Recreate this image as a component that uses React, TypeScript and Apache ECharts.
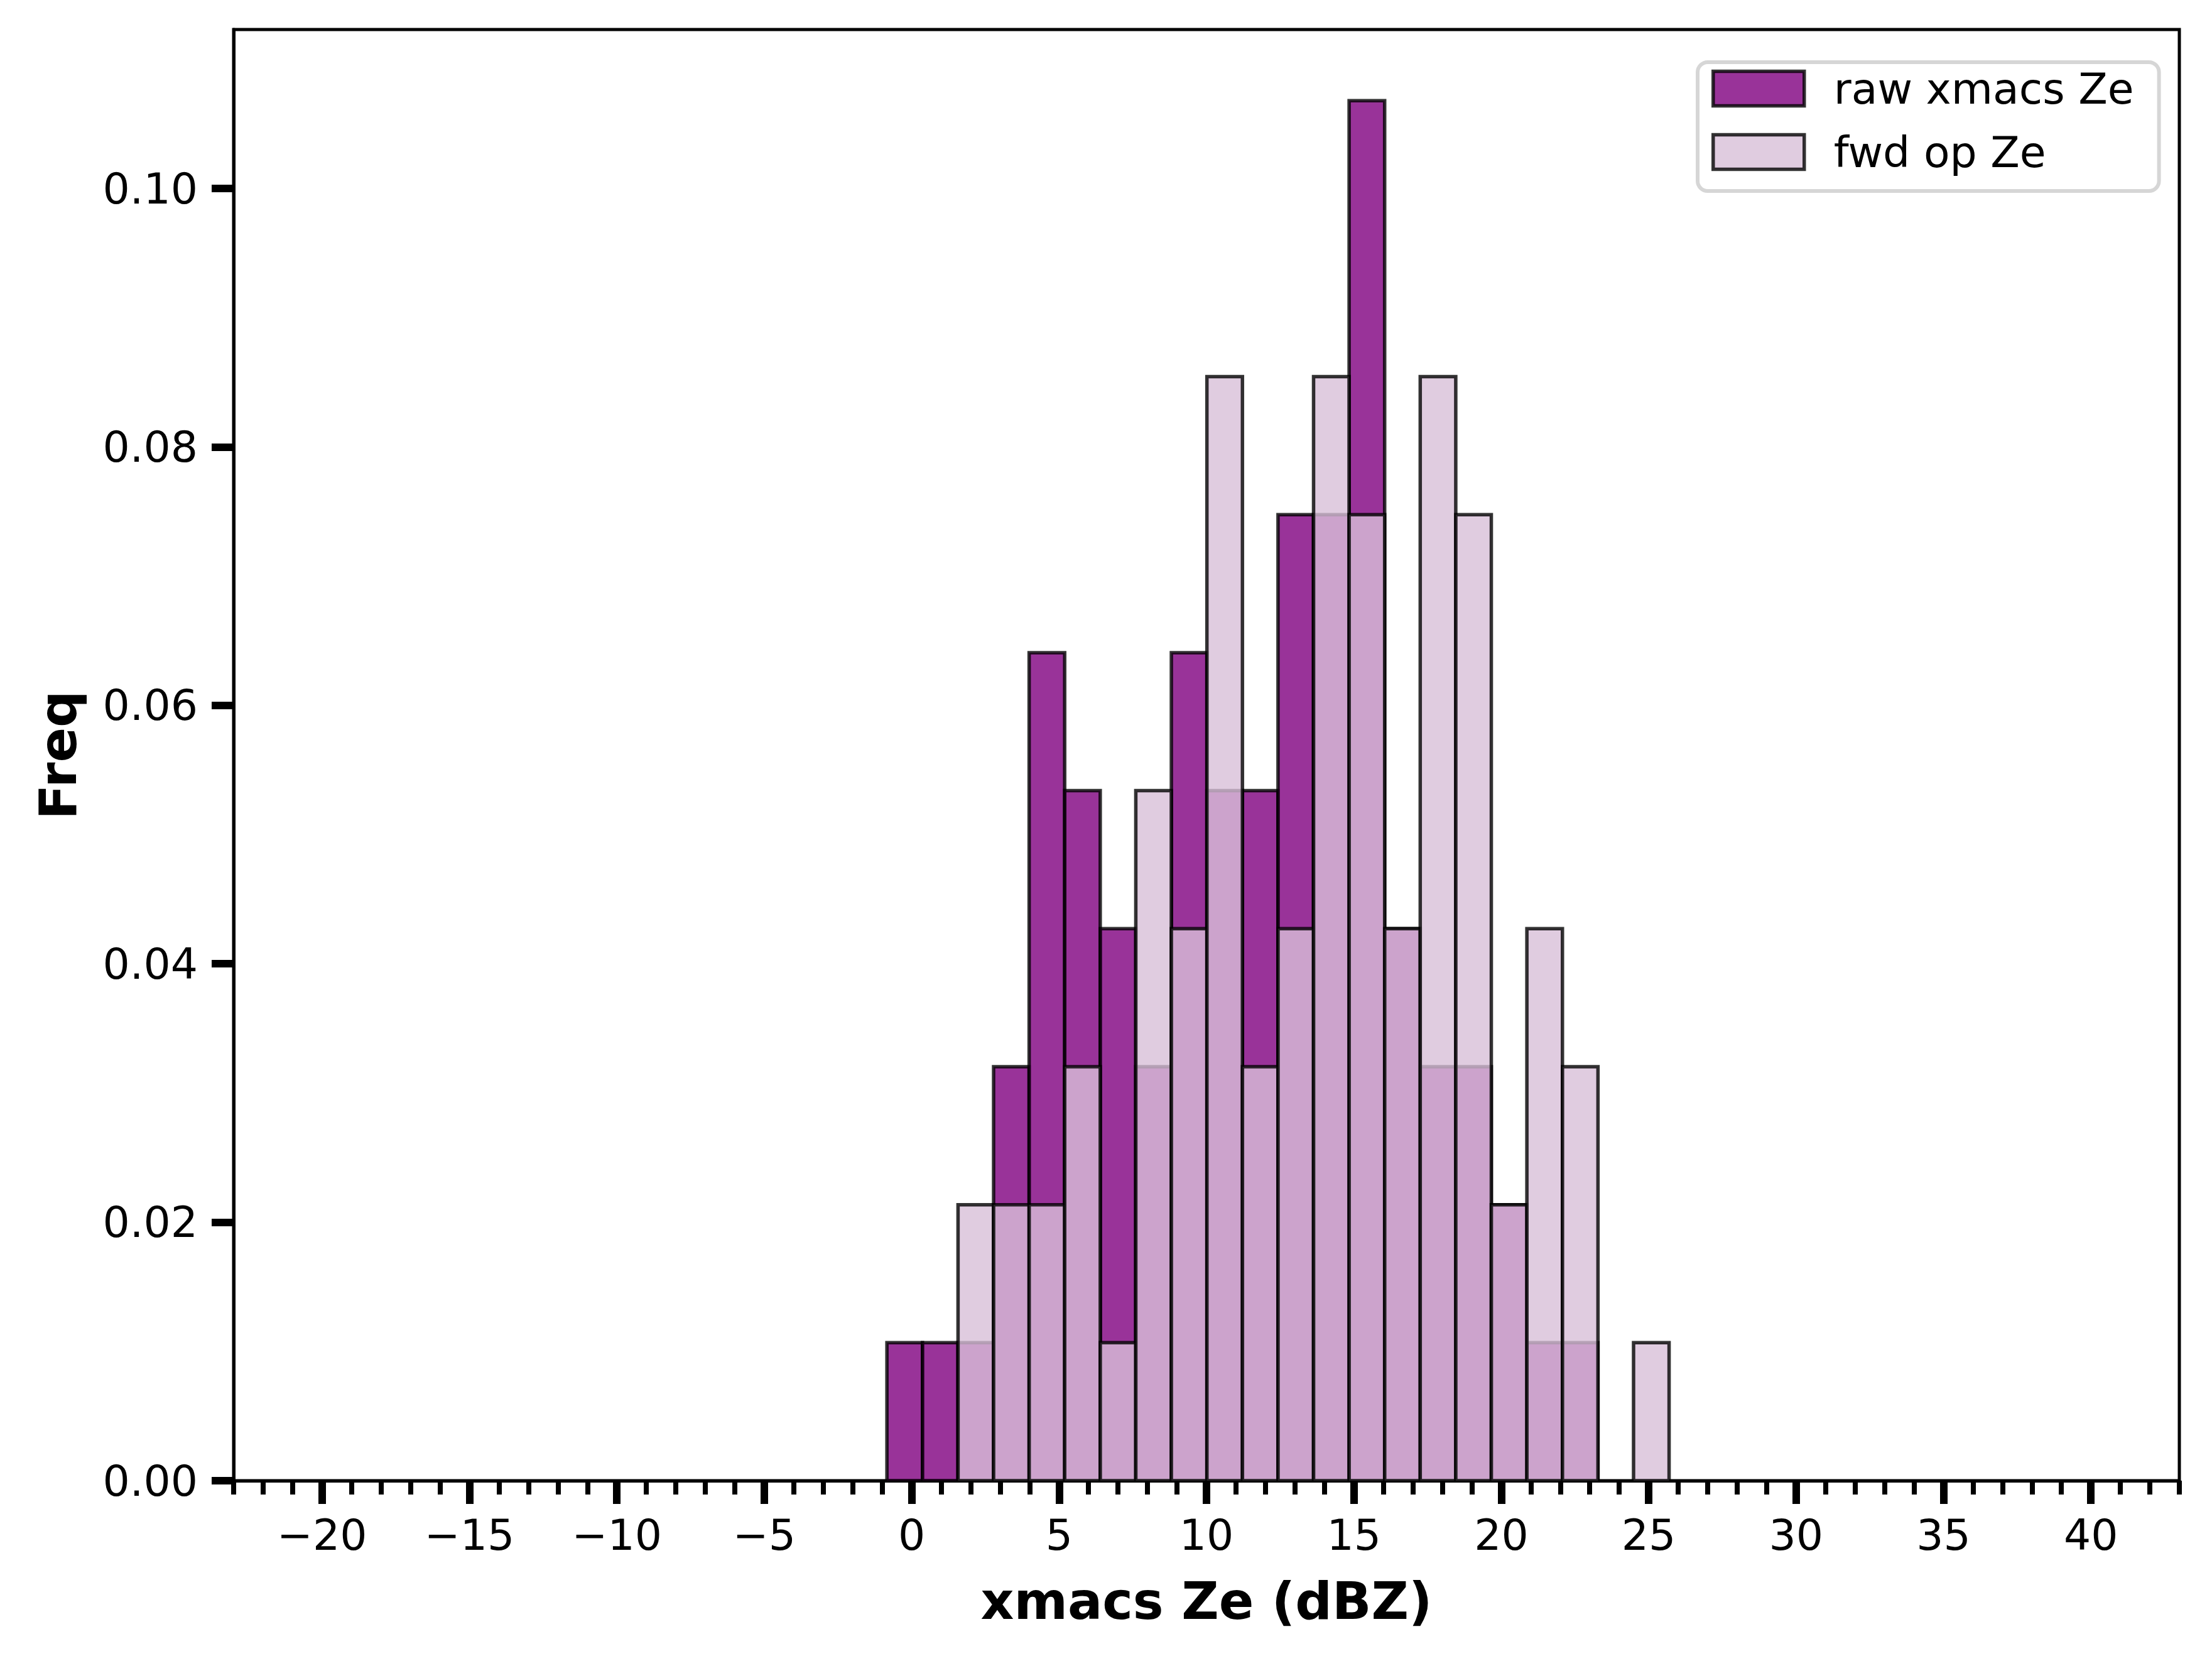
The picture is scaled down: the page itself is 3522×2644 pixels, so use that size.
import React, { useEffect, useRef } from "react";
import * as echarts from "echarts";

// Histogram bin edges (dBZ)
const BIN_EDGES = [
  -0.84, 0.366, 1.572, 2.778, 3.984, 5.19, 6.396, 7.602, 8.808, 10.014, 11.22,
  12.426, 13.632, 14.838, 16.044, 17.25, 18.456, 19.662, 20.868, 22.074, 23.28,
  24.486, 25.692,
];

// Density per bin
const RAW_FREQ = [
  0.01068, 0.01068, 0.01068, 0.03204, 0.06408, 0.0534, 0.04272, 0.03204,
  0.06408, 0.0534, 0.0534, 0.07476, 0.07476, 0.1068, 0.04272, 0.03204,
  0.03204, 0.02136, 0.01068, 0.01068, 0, 0,
];
const FWD_FREQ = [
  0, 0, 0.02136, 0.02136, 0.02136, 0.03204, 0.01068, 0.0534, 0.04272, 0.08544,
  0.03204, 0.04272, 0.08544, 0.07476, 0.04272, 0.08544, 0.07476, 0.02136,
  0.04272, 0.03204, 0, 0.01068,
];

const SERIES_NAMES = ["raw xmacs Ze", "fwd op Ze"];
const X_MAJOR_TICKS = [-20, -15, -10, -5, 0, 5, 10, 15, 20, 25, 30, 35, 40];
const X_MINOR_TICKS = [
  -23, -22, -21, -20, -19, -18, -17, -16, -15, -14, -13, -12, -11, -10, -9, -8,
  -7, -6, -5, -4, -3, -2, -1, 0, 1, 2, 3, 4, 5, 6, 7, 8, 9, 10, 11, 12, 13, 14,
  15, 16, 17, 18, 19, 20, 21, 22, 23, 24, 25, 26, 27, 28, 29, 30, 31, 32, 33,
  34, 35, 36, 37, 38, 39, 40, 41, 42, 43,
];
const Y_TICKS = [0, 0.02, 0.04, 0.06, 0.08, 0.1];
const X_RANGE = [-23, 43];
const Y_RANGE = [0, 0.1123];
const X_LABEL = "xmacs Ze (dBZ)";
const Y_LABEL = "Freq";

const FONT = "DejaVu Sans";
const RAW_FILL = "rgba(128,0,128,0.8)";
const FWD_FILL = "rgba(216,191,216,0.8)";
const EDGE = "rgba(0,0,0,0.8)";
const EDGE_W = 5.5;

function histData(values: number[]) {
  const out: number[][] = [];
  values.forEach((v, i) => {
    if (v > 0) out.push([BIN_EDGES[i], BIN_EDGES[i + 1], v]);
  });
  return out;
}

function makeRender(fill: string) {
  return (params: any, api: any) => {
    const x0 = api.value(0);
    const x1 = api.value(1);
    const y = api.value(2);
    const p0 = api.coord([x0, y]);
    const p1 = api.coord([x1, 0]);
    return {
      type: "rect",
      shape: { x: p0[0], y: p0[1], width: p1[0] - p0[0], height: p1[1] - p0[1] },
      style: { fill, stroke: EDGE, lineWidth: EDGE_W },
    };
  };
}

export default function App() {
  const ref = useRef<HTMLDivElement>(null);
  useEffect(() => {
    if (!ref.current) return;
    const chart = echarts.init(ref.current, undefined, { renderer: "svg" });
    const fmtX = (v: number) => (v < 0 ? "\u2212" + Math.abs(v) : String(v));
    chart.setOption({
      animation: false,
      backgroundColor: "#ffffff",
      grid: {
        left: 372,
        right: 52,
        top: 47,
        bottom: 287,
        show: true,
        borderColor: "#000",
        borderWidth: 5,
        containLabel: false,
      },
      legend: {
        show: true,
        orient: "vertical",
        left: 2703,
        top: 99,
        selectedMode: false,
        icon: "rect",
        itemWidth: 145,
        itemHeight: 55,
        itemGap: 33,
        padding: [8, 40, 28, 22],
        backgroundColor: "rgba(255,255,255,0.8)",
        borderColor: "#d6d6d6",
        borderWidth: 6,
        borderRadius: 16,
        textStyle: {
          fontFamily: FONT,
          fontSize: 68,
          color: "#000",
          padding: [0, 0, 0, 42],
          lineHeight: 55,
        },
        data: [
          {
            name: SERIES_NAMES[0],
            itemStyle: { color: RAW_FILL, borderColor: EDGE, borderWidth: EDGE_W },
          },
          {
            name: SERIES_NAMES[1],
            itemStyle: { color: FWD_FILL, borderColor: EDGE, borderWidth: EDGE_W },
          },
        ],
      },
      xAxis: [
        {
          type: "value",
          min: X_RANGE[0],
          max: X_RANGE[1],
          name: X_LABEL,
          nameLocation: "middle",
          nameGap: 150,
          nameTextStyle: {
            fontFamily: FONT,
            fontSize: 82,
            fontWeight: "bold",
            color: "#000",
          },
          axisLine: { show: true, onZero: false, lineStyle: { color: "#000", width: 5 } },
          axisTick: {
            show: true,
            customValues: X_MAJOR_TICKS,
            length: 37,
            lineStyle: { color: "#000", width: 12 },
          },
          axisLabel: {
            show: true,
            customValues: X_MAJOR_TICKS,
            formatter: fmtX,
            margin: 52,
            fontFamily: FONT,
            fontSize: 68,
            color: "#000",
          },
          splitLine: { show: false },
        },
        {
          type: "value",
          min: X_RANGE[0],
          max: X_RANGE[1],
          position: "bottom",
          axisLine: { show: false, onZero: false },
          axisTick: {
            show: true,
            customValues: X_MINOR_TICKS,
            length: 22,
            lineStyle: { color: "#000", width: 8 },
          },
          axisLabel: { show: false },
          splitLine: { show: false },
        },
      ],
      yAxis: {
        type: "value",
        min: Y_RANGE[0],
        max: Y_RANGE[1],
        name: Y_LABEL,
        nameLocation: "middle",
        nameGap: 239,
        nameTextStyle: {
          fontFamily: FONT,
          fontSize: 82,
          fontWeight: "bold",
          color: "#000",
        },
        axisLine: { show: true, onZero: false, lineStyle: { color: "#000", width: 5 } },
        axisTick: {
          show: true,
          customValues: Y_TICKS,
          length: 35,
          lineStyle: { color: "#000", width: 12 },
        },
        axisLabel: {
          show: true,
          customValues: Y_TICKS,
          formatter: (v: number) => v.toFixed(2),
          margin: 57,
          fontFamily: FONT,
          fontSize: 68,
          color: "#000",
        },
        splitLine: { show: false },
      },
      series: [
        {
          name: SERIES_NAMES[0],
          type: "custom",
          coordinateSystem: "cartesian2d",
          xAxisIndex: 0,
          yAxisIndex: 0,
          renderItem: makeRender(RAW_FILL),
          encode: { x: [0, 1], y: 2 },
          data: histData(RAW_FREQ),
          itemStyle: { color: RAW_FILL },
          z: 2,
        },
        {
          name: SERIES_NAMES[1],
          type: "custom",
          coordinateSystem: "cartesian2d",
          xAxisIndex: 0,
          yAxisIndex: 0,
          renderItem: makeRender(FWD_FILL),
          encode: { x: [0, 1], y: 2 },
          data: histData(FWD_FREQ),
          itemStyle: { color: FWD_FILL },
          z: 3,
        },
      ],
    });
    return () => chart.dispose();
  }, []);
  return (
    <div
      ref={ref}
      style={{ position: "absolute", left: 0, top: 0, width: 3522, height: 2644 }}
    />
  );
}
